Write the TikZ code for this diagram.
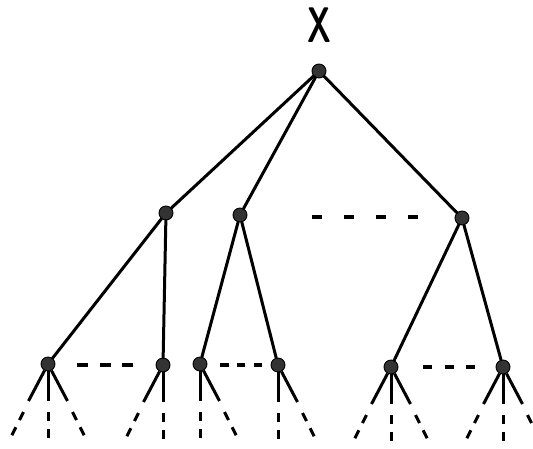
\documentclass[tikz,border=0pt]{standalone}
\usepackage{tikz}
\usetikzlibrary{calc}
\tikzset{
  treedot/.style={circle,fill=black!80,draw=black,line width=0.9pt,minimum size=14pt,inner sep=0pt},
  treeedge/.style={draw=black,line width=3pt,line cap=round},
  treestub/.style={draw=black,line width=3pt,dash pattern=on 9pt off 8pt},
  treegap/.style={draw=black,line width=3.3pt},
}

\begin{document}
\begin{tikzpicture}[x=1pt,y=-1pt]
  \useasboundingbox (0,0) rectangle (533,448);

  % Root and its label.
  \node[inner sep=0pt,font=\sffamily\fontseries{sbc}\fontsize{50}{50}\selectfont] (xlabel) at (319,25) {\scalebox{0.75}[1]{X}};
  \node[treedot] (r) at (319,71) {};

  % Second level.
  \node[treedot] (a) at (166,213) {};
  \node[treedot] (b) at (240,215) {};
  \node[treedot] (c) at (462,218) {};

  % Third level.
  \node[treedot] (a1) at (48,364) {};
  \node[treedot] (a2) at (163,365) {};
  \node[treedot] (b1) at (200,364) {};
  \node[treedot] (b2) at (278,365) {};
  \node[treedot] (c1) at (391,367) {};
  \node[treedot] (c2) at (503,367) {};

  % Edges of the tree.
  \foreach \u/\v in {r/a,r/b,r/c,a/a1,a/a2,b/b1,b/b2,c/c1,c/c2}
    \draw[treeedge] (\u) -- (\v);

  % Leaf stubs: solid part, then dashed continuation.
  \foreach \n/\d in {a1/-1,a1/0,a1/1,a2/-1,a2/0,b1/0,b1/1,b2/0,b2/1,c1/-1,c1/0,c1/1,c2/-1,c2/0,c2/1}{
    \coordinate (\n s\d) at ($(\n)+(\d*19.5,37)$);
    \coordinate (\n t\d) at ($(\n)+(\d*24.5,48)$);
    \coordinate (\n e\d) at ($(\n)+(\d*38,75)$);
    \draw[treeedge,line cap=butt] (\n) -- (\n s\d);
    \draw[treestub] (\n t\d) -- (\n e\d);
  }

  % Elided siblings.
  \draw[treegap,dash pattern=on 10pt off 22pt] (312,217) -- (419,217);
  \draw[treegap,dash pattern=on 11pt off 11.5pt] (77,365) -- (133,365);
  \draw[treegap,dash pattern=on 8.5pt off 8.25pt] (220,365) -- (262,365);
  \draw[treegap,dash pattern=on 9pt off 12.5pt] (423,367) -- (475,367);
\end{tikzpicture}
\end{document}
